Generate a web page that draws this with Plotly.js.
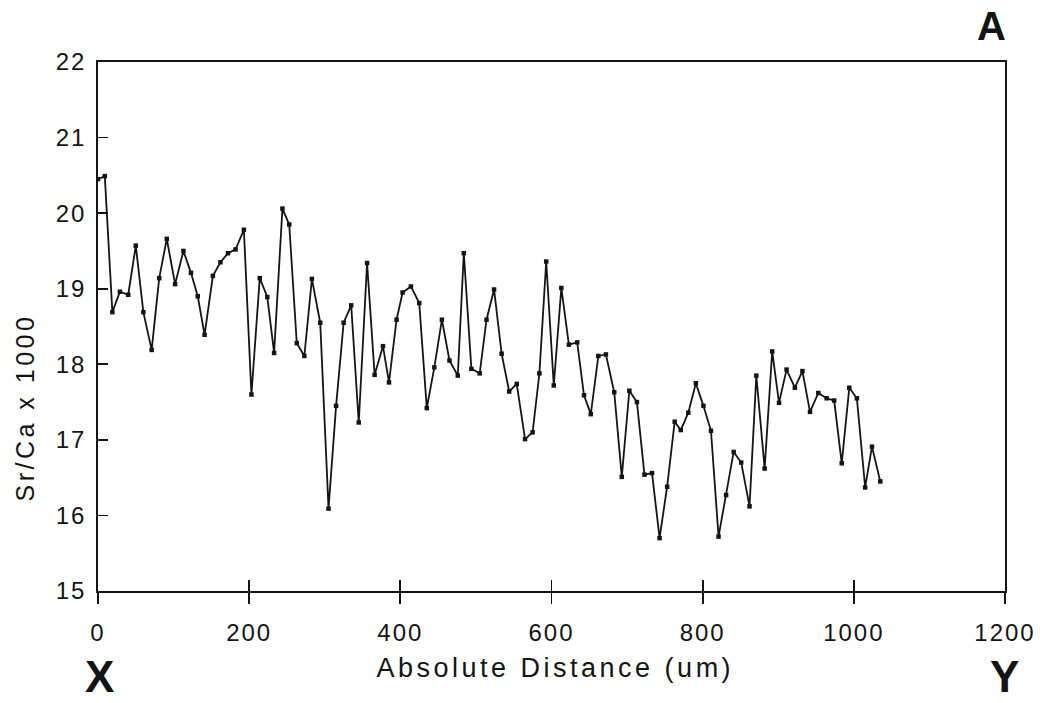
<!DOCTYPE html>
<html>
<head>
<meta charset="utf-8">
<script src="https://cdn.plot.ly/plotly-3.0.1.min.js"></script>
<style>
html,body{margin:0;padding:0;background:#fff;}
#chart{width:1040px;height:703px;}
.xtick text,.ytick text{letter-spacing:2px;}
.annotation[data-index="0"] text{letter-spacing:3.5px;}
.annotation[data-index="1"] text{letter-spacing:3.5px;}
</style>
</head>
<body>
<div id="chart"></div>
<script>
var distance = [0, 9, 19, 29, 40, 50, 60, 71, 81, 91, 102, 113, 123, 132, 141, 152, 162, 172, 182, 193,
  203, 214, 224, 233, 244, 253, 263, 273, 283, 294, 305, 315, 325, 335, 345, 356, 366, 377, 385, 395,
  403, 414, 425, 435, 445, 455, 465, 476, 484, 494, 505, 514, 524, 534, 544, 554, 565, 575, 584, 593,
  603, 613, 623, 634, 643, 652, 662, 672, 683, 693, 703, 713, 723, 733, 743, 753, 763, 771, 781, 791,
  801, 811, 821, 831, 841, 851, 862, 871, 882, 892, 901, 911, 922, 932, 942, 953, 964, 974, 984, 994,
  1004, 1015, 1024, 1035];
var srca = [20.45, 20.49, 18.69, 18.96, 18.92, 19.57, 18.69, 18.19, 19.14, 19.66, 19.06, 19.50, 19.21, 18.90, 18.39, 19.17, 19.35, 19.47, 19.52, 19.78,
  17.60, 19.14, 18.89, 18.15, 20.06, 19.85, 18.28, 18.11, 19.13, 18.55, 16.09, 17.45, 18.55, 18.78, 17.23, 19.34, 17.86, 18.24, 17.76, 18.59,
  18.95, 19.03, 18.81, 17.42, 17.96, 18.59, 18.05, 17.85, 19.47, 17.94, 17.88, 18.59, 18.99, 18.14, 17.64, 17.74, 17.01, 17.10, 17.88, 19.36,
  17.72, 19.01, 18.26, 18.29, 17.59, 17.34, 18.11, 18.13, 17.63, 16.51, 17.65, 17.50, 16.54, 16.56, 15.70, 16.38, 17.24, 17.13, 17.36, 17.75,
  17.45, 17.12, 15.72, 16.27, 16.84, 16.70, 16.12, 17.85, 16.62, 18.17, 17.49, 17.93, 17.69, 17.91, 17.37, 17.62, 17.55, 17.52, 16.69, 17.69,
  17.55, 16.37, 16.91, 16.45];
var xTicks = [0, 200, 400, 600, 800, 1000, 1200];
var yTicks = [15, 16, 17, 18, 19, 20, 21, 22];
var xTitle = 'Absolute Distance (um)';
var yTitle = 'Sr/Ca x 1000';

var font = 'Liberation Sans, Arial, sans-serif';
var ink = '#141414';
var trace = {
  x: distance, y: srca, type: 'scatter', mode: 'lines+markers',
  line: {color: ink, width: 1.8},
  marker: {color: ink, size: 4.5, symbol: 'square'},
  hoverinfo: 'x+y', showlegend: false
};
var ghost = {x: [0], y: [15], xaxis: 'x2', yaxis: 'y', mode: 'markers', marker: {opacity: 0}, showlegend: false, hoverinfo: 'skip'};

var layout = {
  width: 1040, height: 703,
  paper_bgcolor: '#fff', plot_bgcolor: '#fff',
  margin: {l: 98, r: 35, t: 62, b: 112},
  font: {family: font, color: ink},
  xaxis: {
    range: [0, 1200], tickvals: xTicks, ticktext: xTicks.map(String),
    showgrid: false, zeroline: false, showline: true, linecolor: ink, linewidth: 1.8, mirror: true,
    ticks: 'outside', ticklen: 11, tickwidth: 1.8, tickcolor: ink, ticklabelstandoff: 8,
    tickfont: {size: 24, family: font, color: ink}
  },
  xaxis2: {
    range: [0, 1200], tickvals: xTicks, overlaying: 'x', side: 'bottom', anchor: 'y',
    showgrid: false, zeroline: false, showline: false, showticklabels: false,
    ticks: 'inside', ticklen: 11, tickwidth: 1.8, tickcolor: ink
  },
  yaxis: {
    range: [15, 22], tickvals: yTicks, ticktext: yTicks.map(String),
    showgrid: false, zeroline: false, showline: true, linecolor: ink, linewidth: 1.8, mirror: true,
    ticks: 'inside', ticklen: 10, tickwidth: 1.8, tickcolor: ink, ticklabelstandoff: 5,
    tickfont: {size: 24, family: font, color: ink}
  },
  annotations: [
    {text: xTitle, xref: 'paper', yref: 'paper', x: 0.504, y: -0.146, xanchor: 'center', yanchor: 'middle', showarrow: false, font: {size: 27, family: font, color: ink}},
    {text: yTitle, xref: 'paper', yref: 'paper', x: -0.081, y: 0.346, xanchor: 'center', yanchor: 'middle', textangle: -90, showarrow: false, font: {size: 25, family: font, color: ink}},
    {text: '<b>X</b>', xref: 'paper', yref: 'paper', x: 0.002, y: -0.2117, xanchor: 'center', yanchor: 'bottom', showarrow: false, font: {size: 44, family: font, color: ink}},
    {text: '<b>Y</b>', xref: 'paper', yref: 'paper', x: 0.999, y: -0.2117, xanchor: 'center', yanchor: 'bottom', showarrow: false, font: {size: 44, family: font, color: ink}},
    {text: '<b>A</b>', xref: 'paper', yref: 'paper', x: 0.985, y: 1.068, xanchor: 'center', yanchor: 'middle', showarrow: false, font: {size: 40, family: font, color: ink}}
  ]
};
Plotly.newPlot('chart', [trace, ghost], layout, {displayModeBar: false, staticPlot: true});
</script>
</body>
</html>
